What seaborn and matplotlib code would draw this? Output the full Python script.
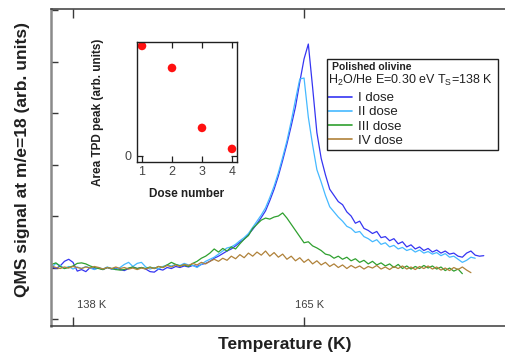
import numpy as np
import pandas as pd
import matplotlib
matplotlib.use("Agg")
import matplotlib.pyplot as plt
import seaborn as sns
from matplotlib.patches import Rectangle

# ---------------- data ----------------
temperature = [
    135.5, 136.0, 136.5, 137.0, 137.5, 138.0, 138.5, 139.0, 139.5, 140.0,
    140.5, 141.0, 141.5, 142.0, 142.5, 143.0, 143.5, 144.0, 144.5, 145.0,
    145.5, 146.0, 146.5, 147.0, 147.5, 148.0, 148.5, 149.0, 149.5, 150.0,
    150.5, 151.0, 151.5, 152.0, 152.5, 153.0, 153.5, 154.0, 154.5, 155.0,
    155.5, 156.0, 156.5, 157.0, 157.5, 158.0, 158.5, 159.0, 159.5, 160.0,
    160.5, 161.0, 161.5, 162.0, 162.5, 163.0, 163.5, 164.0, 164.5, 165.0,
    165.5, 166.0, 166.5, 167.0, 167.5, 168.0, 168.5, 169.0, 169.5, 170.0,
    170.5, 171.0, 171.5, 172.0, 172.5, 173.0, 173.5, 174.0, 174.5, 175.0,
    175.5, 176.0, 176.5, 177.0, 177.5, 178.0, 178.5, 179.0, 179.5, 180.0,
    180.5, 181.0, 181.5, 182.0, 182.5, 183.0, 183.5, 184.0, 184.5, 185.0,
    185.5, 186.0]

dose_I = [
    1.02, 0.98, 1.03, 1.12, 1.16, 1.10, 0.93, 0.96, 0.92, 1.00,
    0.97, 0.99, 0.96, 1.00, 0.97, 0.99, 0.96, 0.94, 0.98, 1.01,
    0.98, 1.00, 0.97, 0.92, 0.91, 0.97, 0.95, 1.00, 0.98, 1.02,
    1.00, 1.03, 1.01, 1.04, 1.02, 1.06, 1.08, 1.12, 1.18, 1.22,
    1.27, 1.32, 1.36, 1.42, 1.49, 1.55, 1.64, 1.74, 1.85, 1.97,
    2.10, 2.30, 2.52, 2.78, 3.08, 3.40, 3.75, 4.12, 4.60, 5.05,
    5.34, 4.50, 3.62, 3.12, 2.80, 2.52, 2.40, 2.28, 2.22, 2.08,
    2.00, 1.86, 1.90, 1.76, 1.72, 1.66, 1.70, 1.58, 1.60, 1.52,
    1.56, 1.46, 1.50, 1.40, 1.44, 1.36, 1.40, 1.33, 1.37, 1.30,
    1.34, 1.28, 1.32, 1.26, 1.28, 1.22, 1.20, 1.28, 1.32, 1.24,
    1.22, 1.23]

dose_II = [
    1.00, 1.08, 1.04, 0.98, 1.02, 0.97, 1.01, 0.98, 1.02, 0.99,
    0.96, 1.00, 0.97, 1.01, 0.98, 0.96, 1.00, 1.06, 1.10, 1.02,
    1.08, 1.10, 1.01, 0.97, 1.00, 0.97, 1.02, 1.05, 1.03, 1.06,
    1.04, 1.08, 1.05, 1.04, 1.00, 1.06, 1.12, 1.16, 1.20, 1.26,
    1.32, 1.38, 1.40, 1.45, 1.52, 1.58, 1.66, 1.78, 1.90, 2.02,
    2.16, 2.36, 2.58, 2.84, 3.14, 3.46, 3.84, 4.26, 4.66, 4.68,
    3.92, 3.38, 2.90, 2.66, 2.40, 2.18, 2.08, 1.98, 1.90, 1.80,
    1.76, 1.68, 1.70, 1.60, 1.56, 1.50, 1.54, 1.45, 1.48, 1.40,
    1.43, 1.36, 1.39, 1.33, 1.36, 1.30, 1.34, 1.28, 1.31, 1.26,
    1.29, 1.23, 1.27, 1.20, 1.22, 1.16, 1.10, 1.14, 1.20, 1.18]

dose_III = [
    1.06, 1.09, 1.02, 0.98, 1.00, 1.03, 1.08, 1.09, 1.07, 1.03,
    1.00, 0.98, 0.96, 1.00, 0.98, 0.96, 0.95, 0.96, 0.99, 1.01,
    0.98, 1.00, 0.98, 1.01, 0.98, 1.02, 1.00, 1.05, 1.10, 1.06,
    1.03, 1.05, 1.02, 1.08, 1.12, 1.18, 1.22, 1.28, 1.36, 1.30,
    1.37, 1.32, 1.40, 1.36, 1.46, 1.55, 1.62, 1.76, 1.84, 1.92,
    1.96, 1.94, 1.98, 2.00, 2.06, 1.96, 1.84, 1.72, 1.60, 1.48,
    1.50, 1.42, 1.38, 1.33, 1.26, 1.24, 1.18, 1.22, 1.16, 1.20,
    1.13, 1.17, 1.10, 1.14, 1.07, 1.12, 1.05, 1.09, 1.03, 1.07,
    1.00, 1.06, 0.98, 1.03, 0.97, 1.02, 0.98, 1.04, 0.99, 1.03,
    0.97, 1.01, 0.94, 0.99, 0.93, 0.97, 0.88]

dose_IV = [
    1.03, 1.00, 0.98, 1.01, 0.99, 1.02, 1.00, 0.98, 1.01, 0.99,
    1.02, 1.00, 0.97, 1.00, 0.98, 1.01, 0.98, 1.00, 0.97, 0.99,
    0.96, 0.99, 0.97, 1.00, 0.98, 1.02, 1.00, 1.04, 1.01, 1.05,
    1.02, 1.06, 1.04, 1.08, 1.05, 1.10, 1.07, 1.12, 1.16, 1.12,
    1.18, 1.14, 1.22, 1.17, 1.25, 1.19, 1.28, 1.22, 1.30, 1.24,
    1.32, 1.22, 1.29, 1.20, 1.26, 1.16, 1.22, 1.13, 1.19, 1.10,
    1.16, 1.07, 1.13, 1.05, 1.10, 1.02, 1.07, 1.00, 1.05, 0.98,
    1.04, 0.99, 1.03, 0.97, 1.02, 0.99, 1.04, 0.97, 1.01, 0.96,
    1.02, 0.98, 1.03, 0.97, 1.01, 0.96, 1.02, 0.98, 1.03, 0.97,
    1.01, 0.95, 0.99, 0.94, 1.00, 0.96, 1.01, 0.95, 0.90]

dose_labels = ["I dose", "II dose", "III dose", "IV dose"]
dose_colors = ["#3535f2", "#45b9ff", "#2fa02f", "#b0823a"]

dose_number = [1, 2, 3, 4]
area_tpd = [1.00, 0.80, 0.255, 0.064]

x_tick_values = [138, 165]
x_tick_labels = ["138 K", "165 K"]

# ---------------- build long table ----------------
series = [dose_I, dose_II, dose_III, dose_IV]
frames = []
for lab, vals in zip(dose_labels, series):
    frames.append(pd.DataFrame({"T": temperature[:len(vals)], "signal": vals, "dose": lab}))
df = pd.concat(frames, ignore_index=True)
inset_df = pd.DataFrame({"dose": dose_number, "area": area_tpd})

# ---------------- style ----------------
sns.set_theme(style="white")
plt.rcParams["font.family"] = ["Liberation Sans", "DejaVu Sans"]
plt.rcParams["mathtext.fontset"] = "custom"
plt.rcParams["mathtext.rm"] = "Liberation Sans"
plt.rcParams["mathtext.it"] = "Liberation Sans:italic"
plt.rcParams["mathtext.bf"] = "Liberation Sans:bold"

W, H = 506, 356
fig = plt.figure(figsize=(W / 100, H / 100), dpi=100)

def fx(px):
    return px / W

def fy(py):
    return 1 - py / H

# main axes: left 51, right 506, top 8.5, bottom 326 (pixels)
ax = fig.add_axes([fx(51), fy(326), fx(506) - fx(51), fy(8.5) - fy(326)])
sns.lineplot(data=df, x="T", y="signal", hue="dose", hue_order=dose_labels,
             palette=dose_colors, estimator=None, sort=False, linewidth=0.9,
             ax=ax, legend=True)
ax.set_xlim(135.43, 188.6)
ax.set_ylim(-0.136, 6.03)

for s in ["top", "bottom"]:
    ax.spines[s].set_color("#3a3a3a")
    ax.spines[s].set_linewidth(1.1)
ax.spines["left"].set_color("#8a8a8a")
ax.spines["left"].set_linewidth(1.8)
ax.spines["right"].set_visible(False)

ax.set_yticks([0, 1, 2, 3, 4, 5, 6])
ax.set_yticklabels([])
ax.set_xticks(x_tick_values)
ax.set_xticklabels([])
ax.tick_params(axis="y", direction="in", length=5, width=1, color="#3a3a3a", left=True)
ax.tick_params(axis="x", direction="in", length=6.5, width=1, color="#3a3a3a",
               bottom=True, top=True)

# tick labels drawn inside the axes above the ticks
for t, lab, off in zip(x_tick_values, x_tick_labels, [2.2, 0.7]):
    ax.text(t + off, 0.27, lab, ha="center", va="center", fontsize=8, color="#404040")

ax.set_xlabel("Temperature (K)", fontsize=12.5, fontweight="bold", color="#202020")
ax.set_ylabel("QMS signal at m/e=18 (arb. units)", fontsize=12.5, fontweight="bold", color="#202020")
ax.xaxis.set_label_coords(0.513, -0.034)
ax.yaxis.set_label_coords(-0.047, 0.523)

# legend
handles, labels = ax.get_legend_handles_labels()
ax.get_legend().remove()
leg = ax.legend(handles, labels, frameon=False, loc="upper left",
                bbox_to_anchor=(fx(328), fy(92)), bbox_transform=fig.transFigure,
                fontsize=9.5, handlelength=1.85, handletextpad=0.4,
                labelspacing=0.15, borderpad=0, borderaxespad=0)
for line in leg.get_lines():
    line.set_linewidth(1.2)
for txt in leg.get_texts():
    txt.set_color("#202020")
fig.patches.append(Rectangle((fx(327), fy(150)), fx(498) - fx(327), fy(59) - fy(150),
                             transform=fig.transFigure, fill=False,
                             edgecolor="#202020", linewidth=1.0))
fig.text(fx(332), fy(67), "Polished olivine", fontsize=7.5, fontweight="bold",
         ha="left", va="center", color="#202020")
fig.text(fx(328), fy(80), r"H$_\mathrm{2}$O/He E=0.30 eV T$_\mathrm{S}$=138 K",
         fontsize=9.0, ha="left", va="center", color="#202020")

# inset axes: left 137, right 237, top 42, bottom 162
ins = fig.add_axes([fx(137), fy(162), fx(237) - fx(137), fy(42) - fy(162)])
sns.scatterplot(data=inset_df, x="dose", y="area", color="#ff1010", s=38,
                edgecolor="none", ax=ins)
ins.set_xlim(0.833, 4.167)
ins.set_ylim(-0.055, 1.036)
ins.set_xticks(dose_number)
ins.set_yticks([0])
ins.tick_params(axis="x", direction="in", length=4, width=0.9, color="#202020",
                top=True, bottom=True, labelsize=9, labelcolor="#444444", pad=3)
ins.tick_params(axis="y", direction="in", length=4, width=0.9, color="#202020",
                left=True, right=True, labelsize=9, labelcolor="#444444", pad=4)
for s in ins.spines.values():
    s.set_color("#202020")
    s.set_linewidth(1.0)
ins.set_xlabel("Dose number", fontsize=8.5, fontweight="bold", color="#202020")
ins.set_ylabel("Area TPD peak (arb. units)", fontsize=8.5, fontweight="bold", color="#202020")
ins.xaxis.set_label_coords(0.5, -0.22)
ins.yaxis.set_label_coords(-0.33, 0.417)

fig.savefig("out.png", dpi=100)
